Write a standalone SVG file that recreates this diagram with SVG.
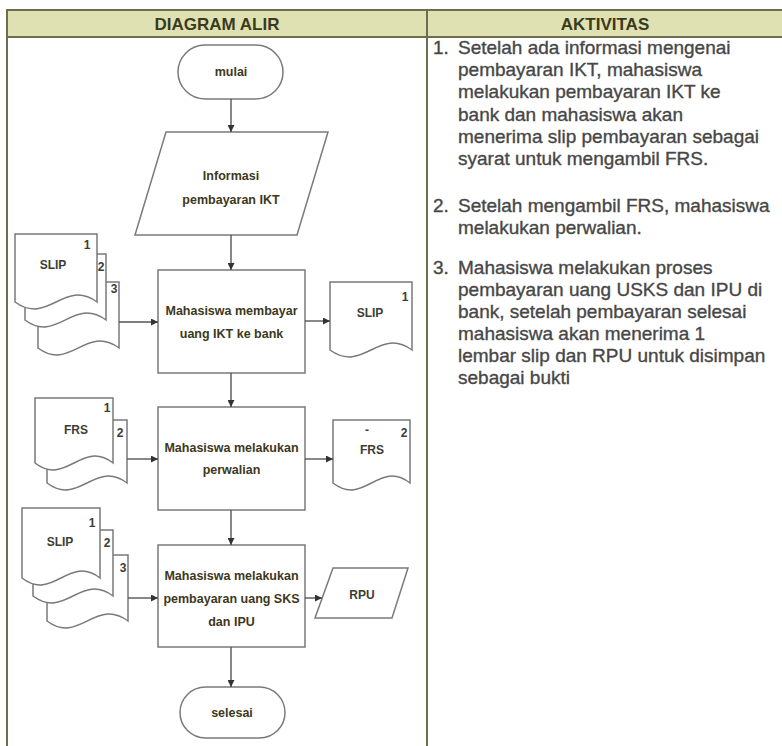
<svg xmlns="http://www.w3.org/2000/svg" width="782" height="746" viewBox="0 0 782 746">
<style>
.tbl{fill:none;stroke:#6e6d4e;stroke-width:2}
.hd{font-family:"Liberation Sans",Arial,sans-serif;font-weight:bold;font-size:17px;fill:#3a3a1c;text-anchor:middle}
.sh{fill:#fff;stroke:#7a7a7a;stroke-width:1.5}
.ft{font-family:"Liberation Sans",Arial,sans-serif;font-weight:bold;font-size:12.5px;fill:#3d3820;text-anchor:middle}
.dl{font-family:"Liberation Sans",Arial,sans-serif;font-weight:bold;font-size:12px;fill:#3d3d35;text-anchor:middle}
.rt{font-family:"Liberation Sans",Arial,sans-serif;font-size:19px;fill:#474747;stroke:#474747;stroke-width:0.35}
.cn line{stroke:#555;stroke-width:1.4;marker-end:url(#ah)}
</style>
<defs>
<marker id="ah" viewBox="0 0 10 10" refX="10" refY="5" markerWidth="7" markerHeight="7" markerUnits="userSpaceOnUse" orient="auto">
<path d="M0,0 L10,5 L0,10 z" fill="#333"/>
</marker>
</defs>
<rect width="782" height="746" fill="#fff"/>
<g id="table">
<rect x="7" y="10" width="776" height="27" fill="#e0e1b2"/>
<path class="tbl" d="M7,746 V10 H782 M7,37 H782 M427,10 V746"/>
<text class="hd" x="217" y="30">DIAGRAM ALIR</text>
<text class="hd" x="605" y="30">AKTIVITAS</text>
</g>
<g id="n-mulai">
<rect class="sh" x="178" y="45" width="105" height="54" rx="27"/>
<text class="ft" x="231" y="76">mulai</text>
</g>
<g id="n-info">
<path class="sh" d="M166,132 H328 L297,235 H135 Z"/>
<text class="ft" x="231" y="180">Informasi</text>
<text class="ft" x="231" y="204">pembayaran IKT</text>
</g>
<g id="n-slip-in1">
<path class="sh" d="M38,282 H119 V348 C86,324 70,372 38,348 Z"/>
<path class="sh" d="M25,254 H106 V320 C73,296 57,344 25,320 Z"/>
<path class="sh" d="M15,234 H97 V302 C64,278 48,326 15,302 Z"/>
<text class="dl" x="53" y="269">SLIP</text>
<text class="dl" x="87" y="249">1</text>
<text class="dl" x="101" y="271">2</text>
<text class="dl" x="114" y="293">3</text>
</g>
<g id="n-bayar">
<rect class="sh" x="158" y="270" width="147" height="103"/>
<text class="ft" x="231.5" y="315">Mahasiswa membayar</text>
<text class="ft" x="231.5" y="338">uang IKT ke bank</text>
</g>
<g id="n-slip-out">
<path class="sh" d="M330,282 H412 V350 C379,326 363,374 330,350 Z"/>
<text class="dl" x="370" y="317">SLIP</text>
<text class="dl" x="405" y="301">1</text>
</g>
<g id="n-frs-in">
<path class="sh" d="M47,420 H127 V483 C95,459 79,507 47,483 Z"/>
<path class="sh" d="M35,398 H113 V463 C82,439 66,487 35,463 Z"/>
<text class="dl" x="76" y="434">FRS</text>
<text class="dl" x="107" y="412">1</text>
<text class="dl" x="120" y="437">2</text>
</g>
<g id="n-perwalian">
<rect class="sh" x="158" y="407" width="147" height="103"/>
<text class="ft" x="231.5" y="452">Mahasiswa melakukan</text>
<text class="ft" x="231.5" y="474">perwalian</text>
</g>
<g id="n-frs-out">
<path class="sh" d="M333,420 H410 V483 C379,459 364,507 333,483 Z"/>
<text class="dl" x="372" y="454">FRS</text>
<text class="dl" x="367" y="434">-</text>
<text class="dl" x="404" y="437">2</text>
</g>
<g id="n-slip-in2">
<path class="sh" d="M47,555 H128 V621 C95,597 79,645 47,621 Z"/>
<path class="sh" d="M33,530 H113 V596 C81,572 65,620 33,596 Z"/>
<path class="sh" d="M22,508 H100 V578 C69,554 53,602 22,578 Z"/>
<text class="dl" x="60" y="546">SLIP</text>
<text class="dl" x="92" y="527">1</text>
<text class="dl" x="107" y="547">2</text>
<text class="dl" x="123" y="572">3</text>
</g>
<g id="n-sks">
<rect class="sh" x="158" y="545" width="147" height="102"/>
<text class="ft" x="231.5" y="580">Mahasiswa melakukan</text>
<text class="ft" x="231.5" y="603">pembayaran uang SKS</text>
<text class="ft" x="231.5" y="626">dan IPU</text>
</g>
<g id="n-rpu">
<path class="sh" d="M333,568 H408 L392,618 H315 Z"/>
<text class="dl" x="362" y="599">RPU</text>
</g>
<g id="n-selesai">
<rect class="sh" x="180" y="687" width="105" height="51" rx="25.5"/>
<text class="ft" x="232" y="717">selesai</text>
</g>
<g id="connectors" class="cn">
<line x1="231" y1="99" x2="231" y2="132"/>
<line x1="231" y1="235" x2="231" y2="270"/>
<line x1="119" y1="322" x2="158" y2="322"/>
<line x1="305" y1="321" x2="330" y2="321"/>
<line x1="231" y1="373" x2="231" y2="407"/>
<line x1="127" y1="459" x2="158" y2="459"/>
<line x1="305" y1="459" x2="333" y2="459"/>
<line x1="231" y1="510" x2="231" y2="545"/>
<line x1="128" y1="598" x2="158" y2="598"/>
<line x1="305" y1="598" x2="322" y2="598"/>
<line x1="231" y1="647" x2="231" y2="687"/>
</g>
<g id="activities" class="rt">
<text x="433" y="54">1.</text>
<text x="458" y="54">Setelah ada informasi mengenai</text>
<text x="458" y="76">pembayaran IKT, mahasiswa</text>
<text x="458" y="98">melakukan pembayaran IKT ke</text>
<text x="458" y="121">bank dan mahasiswa akan</text>
<text x="458" y="143">menerima slip pembayaran sebagai</text>
<text x="458" y="165">syarat untuk mengambil FRS.</text>
<text x="433" y="212">2.</text>
<text x="458" y="212">Setelah mengambil FRS, mahasiswa</text>
<text x="458" y="234">melakukan perwalian.</text>
<text x="433" y="274">3.</text>
<text x="458" y="274">Mahasiswa melakukan proses</text>
<text x="458" y="296">pembayaran uang USKS dan IPU di</text>
<text x="458" y="318">bank, setelah pembayaran selesai</text>
<text x="458" y="340">mahasiswa akan menerima 1</text>
<text x="458" y="362">lembar slip dan RPU untuk disimpan</text>
<text x="458" y="384">sebagai bukti</text>
</g>
</svg>
